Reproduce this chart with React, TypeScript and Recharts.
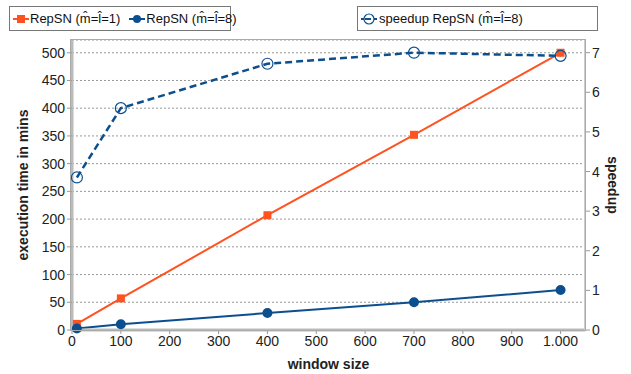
import React from 'react'
import { CartesianGrid, ComposedChart, Label, Line, XAxis, YAxis } from 'recharts'

const windowSizes = [10, 100, 400, 700, 1000]
const repSn1 = [11, 57, 207, 352, 500]
const repSn8 = [2.8, 10.5, 30.5, 50, 72]
const speedup8 = [3.85, 5.6, 6.72, 7.0, 6.92]

const xTicks = [0, 100, 200, 300, 400, 500, 600, 700, 800, 900, 1000]
const leftTicks = [0, 50, 100, 150, 200, 250, 300, 350, 400, 450, 500]
const rightTicks = [0, 1, 2, 3, 4, 5, 6, 7]

const data = windowSizes.map((w, i) => ({
  w,
  rep1: repSn1[i],
  rep8: repSn8[i],
  speed: speedup8[i],
}))

const ORANGE = '#ff5220'
const BLUE = '#0c4f8e'
const FONT = '"Liberation Sans", Arial, sans-serif'
const hat = (c: string) => c + '\u0302'

const Square = (props: any) => {
  const { cx, cy } = props
  if (cx == null || cy == null) return null
  return <rect x={cx - 4} y={cy - 4} width={8} height={8} fill={ORANGE} />
}

const boxStyle: React.CSSProperties = {
  position: 'absolute', top: 6, height: 25, border: '1px solid #777', background: '#fff',
  display: 'flex', alignItems: 'center', boxSizing: 'border-box', paddingLeft: 3,
  whiteSpace: 'nowrap', fontFamily: FONT, fontSize: 13, color: '#111',
}
const iconStyle: React.CSSProperties = { flexShrink: 0 }

const LegendBoxes = () => (
  <>
    <div style={{ ...boxStyle, left: 9, width: 222 }}>
      <svg width={16} height={10} style={iconStyle}>
        <line x1={0} y1={5} x2={16} y2={5} stroke={ORANGE} strokeWidth={2} />
        <rect x={4} y={1} width={8} height={8} fill={ORANGE} />
      </svg>
      <span style={{ marginLeft: 1 }}>RepSN ({hat('m')}={hat('l')}=1)</span>
      <svg width={16} height={10} style={{ ...iconStyle, marginLeft: 9 }}>
        <line x1={0} y1={5} x2={16} y2={5} stroke={BLUE} strokeWidth={2} />
        <circle cx={8} cy={5} r={4} fill={BLUE} />
      </svg>
      <span style={{ marginLeft: 1 }}>RepSN ({hat('m')}={hat('l')}=8)</span>
    </div>
    <div style={{ ...boxStyle, left: 357, width: 241 }}>
      <svg width={16} height={12} style={iconStyle}>
        <line x1={0} y1={6} x2={16} y2={6} stroke={BLUE} strokeWidth={2} />
        <circle cx={8} cy={6} r={5} fill="#fff" stroke={BLUE} strokeWidth={1.2} />
        <line x1={4} y1={6} x2={10} y2={6} stroke={BLUE} strokeWidth={2} />
      </svg>
      <span style={{ marginLeft: 2 }}>speedup RepSN ({hat('m')}={hat('l')}=8)</span>
    </div>
  </>
)

const tickStyle = { fill: '#222', fontSize: 14, fontFamily: FONT }
const titleStyle = { textAnchor: 'middle' as const, fill: '#222', fontSize: 14, fontWeight: 'bold', fontFamily: FONT }

export default function App() {
  return (
    <div style={{ position: 'absolute', left: 0, top: 0, width: 631, height: 374, background: '#fff' }}>
      <ComposedChart width={631} height={374} data={data} margin={{ top: 40, right: 0, bottom: 0, left: 0 }}>
        <CartesianGrid yAxisId="left" vertical={false} stroke="#999" strokeDasharray="2 2" />
        <XAxis
          dataKey="w"
          type="number"
          domain={[0, 1050]}
          ticks={xTicks}
          tickFormatter={(v: number) => (v === 1000 ? '1.000' : String(v))}
          tick={tickStyle}
          height={44}
          stroke="#bbb"
          strokeWidth={3}
          tickSize={4}
          tickLine={{ stroke: '#999', strokeWidth: 1 }}
        >
          <Label value="window size" position="insideBottom" offset={5} style={titleStyle} />
        </XAxis>
        <YAxis
          yAxisId="left"
          domain={[0, 523]}
          ticks={leftTicks}
          tick={tickStyle}
          width={72}
          stroke="#bbb"
          strokeWidth={3}
          tickSize={5}
          tickLine={{ stroke: '#999', strokeWidth: 1 }}
          interval={0}
        >
          <Label value="execution time in mins" angle={-90} position="insideLeft" offset={23} style={titleStyle} />
        </YAxis>
        <YAxis
          yAxisId="right"
          orientation="right"
          domain={[0, 7.32]}
          ticks={rightTicks}
          tick={tickStyle}
          width={46}
          stroke="#ccc"
          strokeWidth={2}
          tickSize={5}
          tickLine={{ stroke: '#999', strokeWidth: 1 }}
          interval={0}
        >
          <Label value="speedup" angle={90} position="insideRight" offset={18} style={titleStyle} />
        </YAxis>
        <Line yAxisId="left" dataKey="rep1" stroke={ORANGE} strokeWidth={2} dot={<Square />} isAnimationActive={false} />
        <Line yAxisId="left" dataKey="rep8" stroke={BLUE} strokeWidth={2} dot={{ r: 4, fill: BLUE, stroke: BLUE }} isAnimationActive={false} />
        <Line yAxisId="right" dataKey="speed" stroke={BLUE} strokeWidth={2.5} strokeDasharray="7 4" dot={{ r: 5.5, fill: 'none', stroke: BLUE, strokeWidth: 1.2, strokeDasharray: '' }} isAnimationActive={false} />
      </ComposedChart>
      <LegendBoxes />
      <div style={{ position: 'absolute', left: 70, top: 39, width: 516, height: 292, border: '1px solid #aaa', boxSizing: 'border-box', pointerEvents: 'none' }} />
    </div>
  )
}
